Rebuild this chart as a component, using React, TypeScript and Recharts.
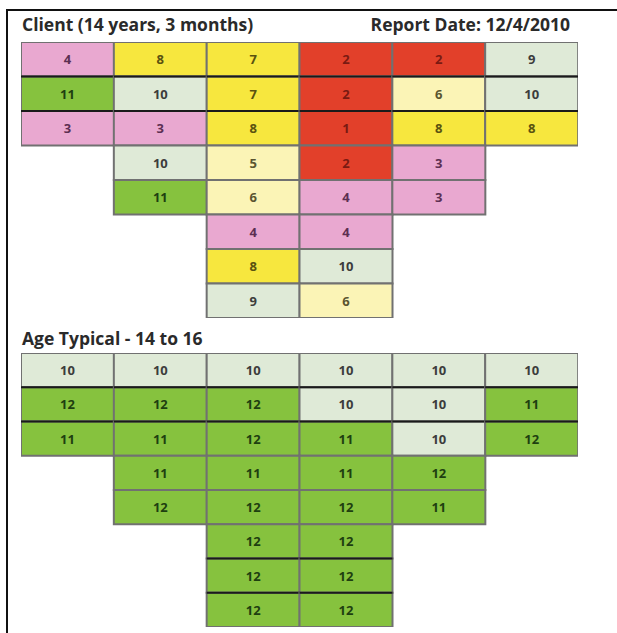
import React from 'react';
import { BarChart, Bar, XAxis, YAxis } from 'recharts';

const columns = ['A', 'B', 'C', 'D', 'E', 'F'];

const clientRow1 = [4, 8, 7, 2, 2, 9];
const clientRow2 = [11, 10, 7, 2, 6, 10];
const clientRow3 = [3, 3, 8, 1, 8, 8];
const clientRow4 = [null, 10, 5, 2, 3, null];
const clientRow5 = [null, 11, 6, 4, 3, null];
const clientRow6 = [null, null, 4, 4, null, null];
const clientRow7 = [null, null, 8, 10, null, null];
const clientRow8 = [null, null, 9, 6, null, null];

const typicalRow1 = [10, 10, 10, 10, 10, 10];
const typicalRow2 = [12, 12, 12, 10, 10, 11];
const typicalRow3 = [11, 11, 12, 11, 10, 12];
const typicalRow4 = [null, 11, 11, 11, 12, null];
const typicalRow5 = [null, 12, 12, 12, 11, null];
const typicalRow6 = [null, null, 12, 12, null, null];
const typicalRow7 = [null, null, 12, 12, null, null];
const typicalRow8 = [null, null, 12, 12, null, null];

const clientRows = [clientRow1, clientRow2, clientRow3, clientRow4, clientRow5, clientRow6, clientRow7, clientRow8];
const typicalRows = [typicalRow1, typicalRow2, typicalRow3, typicalRow4, typicalRow5, typicalRow6, typicalRow7, typicalRow8];

const clientTitle = 'Client (14 years, 3 months)';
const reportDate = 'Report Date: 12/4/2010';
const typicalTitle = 'Age Typical - 14 to 16';

function fillFor(v: number) {
  if (v <= 2) return '#E2402A';
  if (v <= 4) return '#E9A8D0';
  if (v <= 6) return '#FBF4B6';
  if (v <= 8) return '#F7E73E';
  if (v <= 10) return '#DFEAD7';
  return '#86C23E';
}
function textFor(v: number) {
  if (v <= 2) return '#7A1A12';
  if (v <= 4) return '#5C2F52';
  if (v <= 6) return '#5A5530';
  if (v <= 8) return '#5A5210';
  if (v <= 10) return '#3C3C3C';
  return '#1E3F10';
}

function buildData(rows: (number | null)[][]) {
  return columns.map((c, i) => {
    const o: any = { col: c };
    rows.forEach((r, k) => {
      o[`s${k}`] = r[i];
      o[`u${k}`] = r[i] == null ? null : 1;
    });
    return o;
  });
}

const makeShape = (k: number, darkTop: boolean) => (props: any) => {
  const { payload } = props;
  let { x, y, width, height } = props;
  const score = payload ? payload[`s${k}`] : null;
  if (score == null || !height) return null;
  if (height < 0) { y = y + height; height = -height; }
  if (width < 0) { x = x + width; width = -width; }
  return (
    <g>
      <rect x={x} y={y} width={width} height={height} fill={fillFor(score)} stroke="#717171" strokeWidth={2} />
      {darkTop && <line x1={x} x2={x + width} y1={y} y2={y} stroke="#1a1a1a" strokeWidth={2} />}
      <text
        x={x + width / 2}
        y={y + height / 2}
        textAnchor="middle"
        dominantBaseline="central"
        fontFamily="'Open Sans', sans-serif"
        fontWeight={700}
        fontSize={13}
        fill={textFor(score)}
      >
        {score}
      </text>
    </g>
  );
};

function Grid({ rows, height, darkRows }: { rows: (number | null)[][]; height: number; darkRows: number[] }) {
  const data = buildData(rows);
  return (
    <BarChart width={557} height={height} data={data} margin={{ top: 0, right: 0, bottom: 0, left: 0 }} barCategoryGap={0} barGap={0}>
      <XAxis dataKey="col" type="category" hide />
      <YAxis type="number" domain={[0, 8]} reversed hide allowDataOverflow />
      {rows.map((_, k) => (
        <Bar key={k} dataKey={`u${k}`} stackId="s" isAnimationActive={false} shape={makeShape(k, darkRows.includes(k))} />
      ))}
    </BarChart>
  );
}

const titleStyle: React.CSSProperties = {
  position: 'absolute',
  fontFamily: "'Open Sans', sans-serif",
  fontWeight: 700,
  fontSize: 17.5,
  color: '#2a2a2a',
  whiteSpace: 'nowrap',
  lineHeight: '18px',
};

export default function App() {
  return (
    <div style={{ position: 'absolute', left: 0, top: 0, width: 617, height: 633, background: '#fff', overflow: 'hidden' }}>
      <div style={{ position: 'absolute', left: 6, top: 9, width: 611, height: 2, background: '#111' }} />
      <div style={{ position: 'absolute', left: 6, top: 9, width: 2, height: 624, background: '#111' }} />
      <div style={{ ...titleStyle, left: 22, top: 15 }}>{clientTitle}</div>
      <div style={{ ...titleStyle, right: 47, top: 15, textAlign: 'right' }}>{reportDate}</div>
      <div style={{ position: 'absolute', left: 21, top: 42 }}>
        <Grid rows={clientRows} height={276} darkRows={[1, 2]} />
      </div>
      <div style={{ ...titleStyle, left: 22, top: 329 }}>{typicalTitle}</div>
      <div style={{ position: 'absolute', left: 21, top: 353 }}>
        <Grid rows={typicalRows} height={274} darkRows={[1, 2, 6, 7]} />
      </div>
    </div>
  );
}
